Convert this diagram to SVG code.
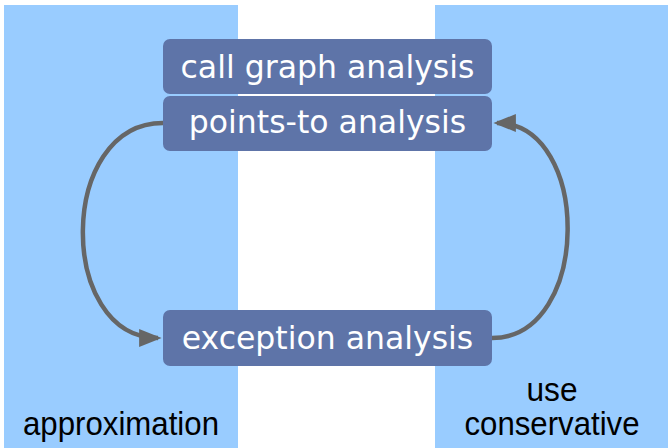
<svg xmlns="http://www.w3.org/2000/svg" width="668" height="448" viewBox="0 0 668 448">
<style>
.panel{fill:#99ccff}
.box{fill:#5e74a8}
.bt{font-family:"DejaVu Sans",sans-serif;font-size:31.5px;fill:#ffffff;text-anchor:middle}
.lt{font-family:"Liberation Sans",Arial,sans-serif;font-size:33px;fill:#000000;text-anchor:middle}
.edge{fill:none;stroke:#666666;stroke-width:4.5}
</style>
<defs>
<marker id="ah" markerWidth="5" markerHeight="4" refX="4.2" refY="2" orient="auto" markerUnits="strokeWidth">
<path d="M0,0 L5,2 L0,4 Z" fill="#666666"/>
</marker>
</defs>
<rect width="668" height="448" fill="#ffffff"/>
<g id="panel-left">
<rect class="panel" x="4" y="5" width="234" height="443"/>
<text class="lt" x="121" y="435" textLength="196" lengthAdjust="spacingAndGlyphs">approximation</text>
</g>
<g id="panel-right">
<rect class="panel" x="435" y="5" width="233" height="443"/>
<text class="lt" x="552" y="401" textLength="51" lengthAdjust="spacingAndGlyphs">use</text>
<text class="lt" x="552" y="435" textLength="175" lengthAdjust="spacingAndGlyphs">conservative</text>
</g>
<g id="connectors">
<path class="edge" d="M163,123 C57,123 57,338 158,338" marker-end="url(#ah)"/>
<path class="edge" d="M492,338 C592,338 592,123 497,123" marker-end="url(#ah)"/>
</g>
<g id="node-callgraph">
<rect class="box" x="163" y="39" width="329" height="55" rx="7"/>
<text class="bt" x="327.5" y="78">call graph analysis</text>
</g>
<g id="node-pointsto">
<rect class="box" x="163" y="96" width="329" height="55" rx="7"/>
<text class="bt" x="327.5" y="133">points-to analysis</text>
</g>
<g id="node-exception">
<rect class="box" x="163" y="310" width="329" height="56" rx="7"/>
<text class="bt" x="327.5" y="349">exception analysis</text>
</g>
</svg>
